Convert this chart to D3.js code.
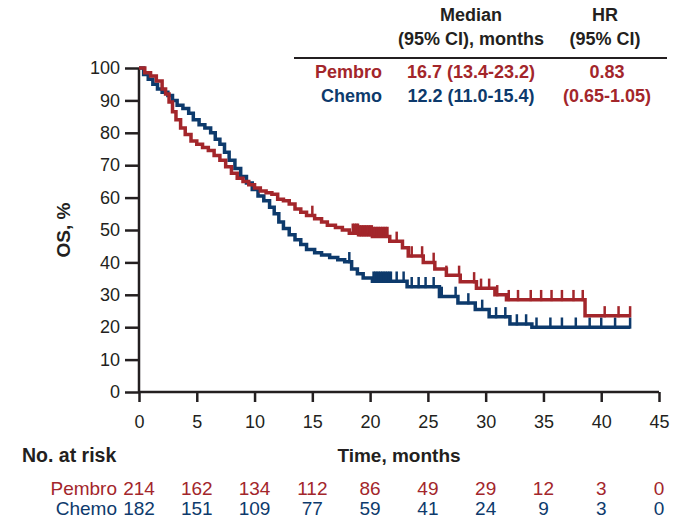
<!DOCTYPE html>
<html>
<head>
<meta charset="utf-8">
<script src="https://cdn.jsdelivr.net/npm/d3@7"></script>
<style>
  body { margin: 0; background: #fff; }
  svg text { font-family: "Liberation Sans", Arial, sans-serif; }
</style>
</head>
<body>
<div id="chart-area"></div>
<script>
const WIDTH = 687
const HEIGHT = 520
const MARGIN = { LEFT: 139, TOP: 68 }
const PLOT_W = 520
const PLOT_H = 324

const RED = "#a3262b"
const BLUE = "#0d3a6c"
const INK = "#231f20"

// Kaplan-Meier steps: [month, OS %]
const pembroSteps = [
  [0, 100], [0.5, 98.5], [1.0, 97.5], [1.5, 96], [2.0, 93.5], [2.3, 92], [2.6, 89.5],
  [2.9, 86.5], [3.2, 84], [3.6, 81.5], [4.0, 79.5], [4.5, 77.5], [5.0, 76.5], [5.5, 75.5],
  [6.0, 74.5], [6.5, 73], [7.0, 71.5], [7.5, 69.5], [8.0, 67.5], [8.5, 66], [9.0, 65],
  [9.5, 64], [10.0, 63], [10.5, 62], [11.0, 61.5], [11.5, 61], [12.0, 59.5], [12.5, 59],
  [13.0, 58], [13.5, 56.5], [14.0, 55.5], [14.5, 54.5], [15.2, 53.5], [15.8, 52.5],
  [16.3, 51.5], [17.0, 50.8], [17.6, 50], [18.2, 49], [19.0, 48.5], [20.2, 48],
  [21.7, 46.5], [22.8, 44.5], [23.3, 42], [24.6, 40], [25.6, 38], [26.6, 36], [27.8, 34],
  [29.2, 32], [30.8, 30], [31.8, 28.5], [38.6, 23.5]
]
const pembroEnd = 42.5
const pembroCensor = [15.0, 18.5, 18.65, 18.8, 18.95, 19.1, 19.25, 19.4, 19.55, 19.7,
  19.85, 20.0, 20.15, 20.3, 20.45, 20.6, 20.75, 20.9, 21.05, 21.2, 21.35, 21.5, 22.3,
  23.6, 24.5, 25.5, 26.6, 27.7, 29.0, 29.6, 30.3, 31.0, 32.0, 32.8, 33.9, 34.8, 35.7,
  36.6, 37.6, 38.4, 40.3, 41.5, 42.5]

const chemoSteps = [
  [0, 100], [0.4, 98], [0.8, 96.5], [1.2, 95], [1.6, 93.5], [2.0, 92.5], [2.5, 91.5],
  [2.9, 90], [3.3, 88.5], [3.8, 87.5], [4.3, 86], [4.7, 84], [5.2, 82.5], [5.7, 81.5],
  [6.2, 80], [6.6, 78], [7.0, 76.5], [7.4, 74], [7.8, 71.5], [8.3, 69], [8.8, 66.5],
  [9.3, 64.5], [9.8, 62.5], [10.3, 60.5], [10.8, 59], [11.3, 57], [11.7, 55], [12.1, 52.5],
  [12.5, 50.5], [13.0, 48.5], [13.5, 47], [14.0, 45.5], [14.5, 44], [15.2, 43], [15.8, 42.3],
  [16.5, 41.5], [17.2, 40.8], [17.8, 40.2], [18.4, 38], [18.9, 36.5], [19.4, 35.2],
  [20.2, 34.2], [23.2, 32.5], [26.0, 29.5], [27.6, 27.5], [29.1, 25.5], [30.3, 23.2],
  [32.1, 21], [34.0, 20]
]
const chemoEnd = 42.5
const chemoCensor = [18.2, 20.3, 20.45, 20.6, 20.75, 20.9, 21.05, 21.2, 21.35, 21.5,
  21.65, 21.8, 22.3, 22.9, 23.6, 24.2, 24.8, 25.5, 26.2, 27.4, 28.5, 29.7, 30.9, 31.7,
  32.7, 33.5, 34.4, 35.6, 36.6, 37.8, 39.0, 40.0, 41.2, 42.5]

// axis ticks
const xTicks = [0, 5, 10, 15, 20, 25, 30, 35, 40, 45]
const yTicks = [0, 10, 20, 30, 40, 50, 60, 70, 80, 90, 100]

// numbers at risk
const riskTimes = [0, 5, 10, 15, 20, 25, 30, 35, 40, 45]
const pembroRisk = [214, 162, 134, 112, 86, 49, 29, 12, 3, 0]
const chemoRisk = [182, 151, 109, 77, 59, 41, 24, 9, 3, 0]

// legend table
const legendHeader = [["Median", "(95% CI), months"], ["HR", "(95% CI)"]]
const legendRows = [
  { arm: "Pembro", median: "16.7 (13.4-23.2)", hr: "0.83", color: RED },
  { arm: "Chemo", median: "12.2 (11.0-15.4)", hr: "(0.65-1.05)", color: BLUE }
]

const svg = d3.select("#chart-area").append("svg")
  .attr("width", WIDTH)
  .attr("height", HEIGHT)

const g = svg.append("g")
  .attr("transform", `translate(${MARGIN.LEFT}, ${MARGIN.TOP})`)

// scales
const x = d3.scaleLinear().domain([0, 45]).range([0, PLOT_W])
const y = d3.scaleLinear().domain([0, 100]).range([PLOT_H, 0])

// axes
const xAxisCall = d3.axisBottom(x).tickValues(xTicks).tickSize(10).tickPadding(13)
const yAxisCall = d3.axisLeft(y).tickValues(yTicks).tickSize(14).tickPadding(5)

const xAxis = g.append("g")
  .attr("transform", `translate(0, ${PLOT_H})`)
  .call(xAxisCall)
const yAxis = g.append("g").call(yAxisCall)

;[xAxis, yAxis].forEach(a => {
  a.select(".domain").attr("stroke", INK).attr("stroke-width", 2.5)
  a.selectAll(".tick line").attr("stroke", INK).attr("stroke-width", 2.5)
  a.selectAll(".tick text")
    .attr("fill", INK)
    .attr("font-size", "18px")
    .attr("font-family", "'Liberation Sans', Arial, sans-serif")
})
xAxis.select(".domain").attr("d", `M0,0H${PLOT_W}`)
yAxis.select(".domain").attr("d", `M0,0V${PLOT_H}`)

// survival curves
const line = d3.line()
  .x(d => x(d[0]))
  .y(d => y(d[1]))
  .curve(d3.curveStepAfter)

function stepValue(steps, t) {
  let v = steps[0][1]
  steps.forEach(s => { if (s[0] <= t) v = s[1] })
  return v
}

function drawArm(steps, end, censor, color) {
  const pts = steps.concat([[end, steps[steps.length - 1][1]]])
  g.append("path")
    .attr("d", line(pts))
    .attr("fill", "none")
    .attr("stroke", color)
    .attr("stroke-width", 3.5)
    .attr("stroke-linejoin", "miter")

  g.selectAll(null)
    .data(censor)
    .enter().append("line")
    .attr("x1", d => x(d))
    .attr("x2", d => x(d))
    .attr("y1", d => y(stepValue(steps, d)) + 1.5)
    .attr("y2", d => y(stepValue(steps, d) + 3))
    .attr("stroke", color)
    .attr("stroke-width", 2.5)
}

drawArm(chemoSteps, chemoEnd, chemoCensor, BLUE)
drawArm(pembroSteps, pembroEnd, pembroCensor, RED)

// axis labels
svg.append("text")
  .attr("transform", `translate(70, ${MARGIN.TOP + PLOT_H / 2}) rotate(-90)`)
  .attr("text-anchor", "middle")
  .attr("font-size", "19px")
  .attr("font-weight", "bold")
  .attr("fill", INK)
  .text("OS, %")

svg.append("text")
  .attr("x", MARGIN.LEFT + x(22.5))
  .attr("y", 462)
  .attr("text-anchor", "middle")
  .attr("font-size", "19px")
  .attr("font-weight", "bold")
  .attr("fill", INK)
  .text("Time, months")

// number at risk table
svg.append("text")
  .attr("x", 22)
  .attr("y", 462)
  .attr("font-size", "19.5px")
  .attr("font-weight", "bold")
  .attr("fill", INK)
  .text("No. at risk")

const riskRows = [
  { name: "Pembro", values: pembroRisk, color: RED, y: 495 },
  { name: "Chemo", values: chemoRisk, color: BLUE, y: 515 }
]
riskRows.forEach(r => {
  svg.append("text")
    .attr("x", 117)
    .attr("y", r.y)
    .attr("text-anchor", "end")
    .attr("font-size", "19px")
    .attr("fill", r.color)
    .text(r.name)
  svg.selectAll(null)
    .data(r.values)
    .enter().append("text")
    .attr("x", (d, i) => MARGIN.LEFT + x(riskTimes[i]))
    .attr("y", r.y)
    .attr("text-anchor", "middle")
    .attr("font-size", "19px")
    .attr("fill", r.color)
    .text(d => d)
})

// legend table (top right)
const colMedian = 471
const colHR = 605
legendHeader.forEach((lines, i) => {
  const cx = i === 0 ? colMedian : colHR
  lines.forEach((t, j) => {
    svg.append("text")
      .attr("x", cx)
      .attr("y", 21 + j * 24)
      .attr("text-anchor", "middle")
      .attr("font-size", "18px")
      .attr("font-weight", "bold")
      .attr("fill", INK)
      .text(t)
  })
})
svg.append("line")
  .attr("x1", 294).attr("x2", 667)
  .attr("y1", 58).attr("y2", 58)
  .attr("stroke", INK)
  .attr("stroke-width", 2)

legendRows.forEach((r, i) => {
  const yy = 78 + i * 24
  svg.append("text")
    .attr("x", 382).attr("y", yy)
    .attr("text-anchor", "end")
    .attr("font-size", "18px").attr("font-weight", "bold")
    .attr("fill", r.color)
    .text(r.arm)
  svg.append("text")
    .attr("x", colMedian).attr("y", yy)
    .attr("text-anchor", "middle")
    .attr("font-size", "18px").attr("font-weight", "bold")
    .attr("fill", r.color)
    .text(r.median)
  svg.append("text")
    .attr("x", colHR + 2).attr("y", yy)
    .attr("text-anchor", "middle")
    .attr("font-size", "18px").attr("font-weight", "bold")
    .attr("fill", RED)
    .text(r.hr)
})
</script>
</body>
</html>
